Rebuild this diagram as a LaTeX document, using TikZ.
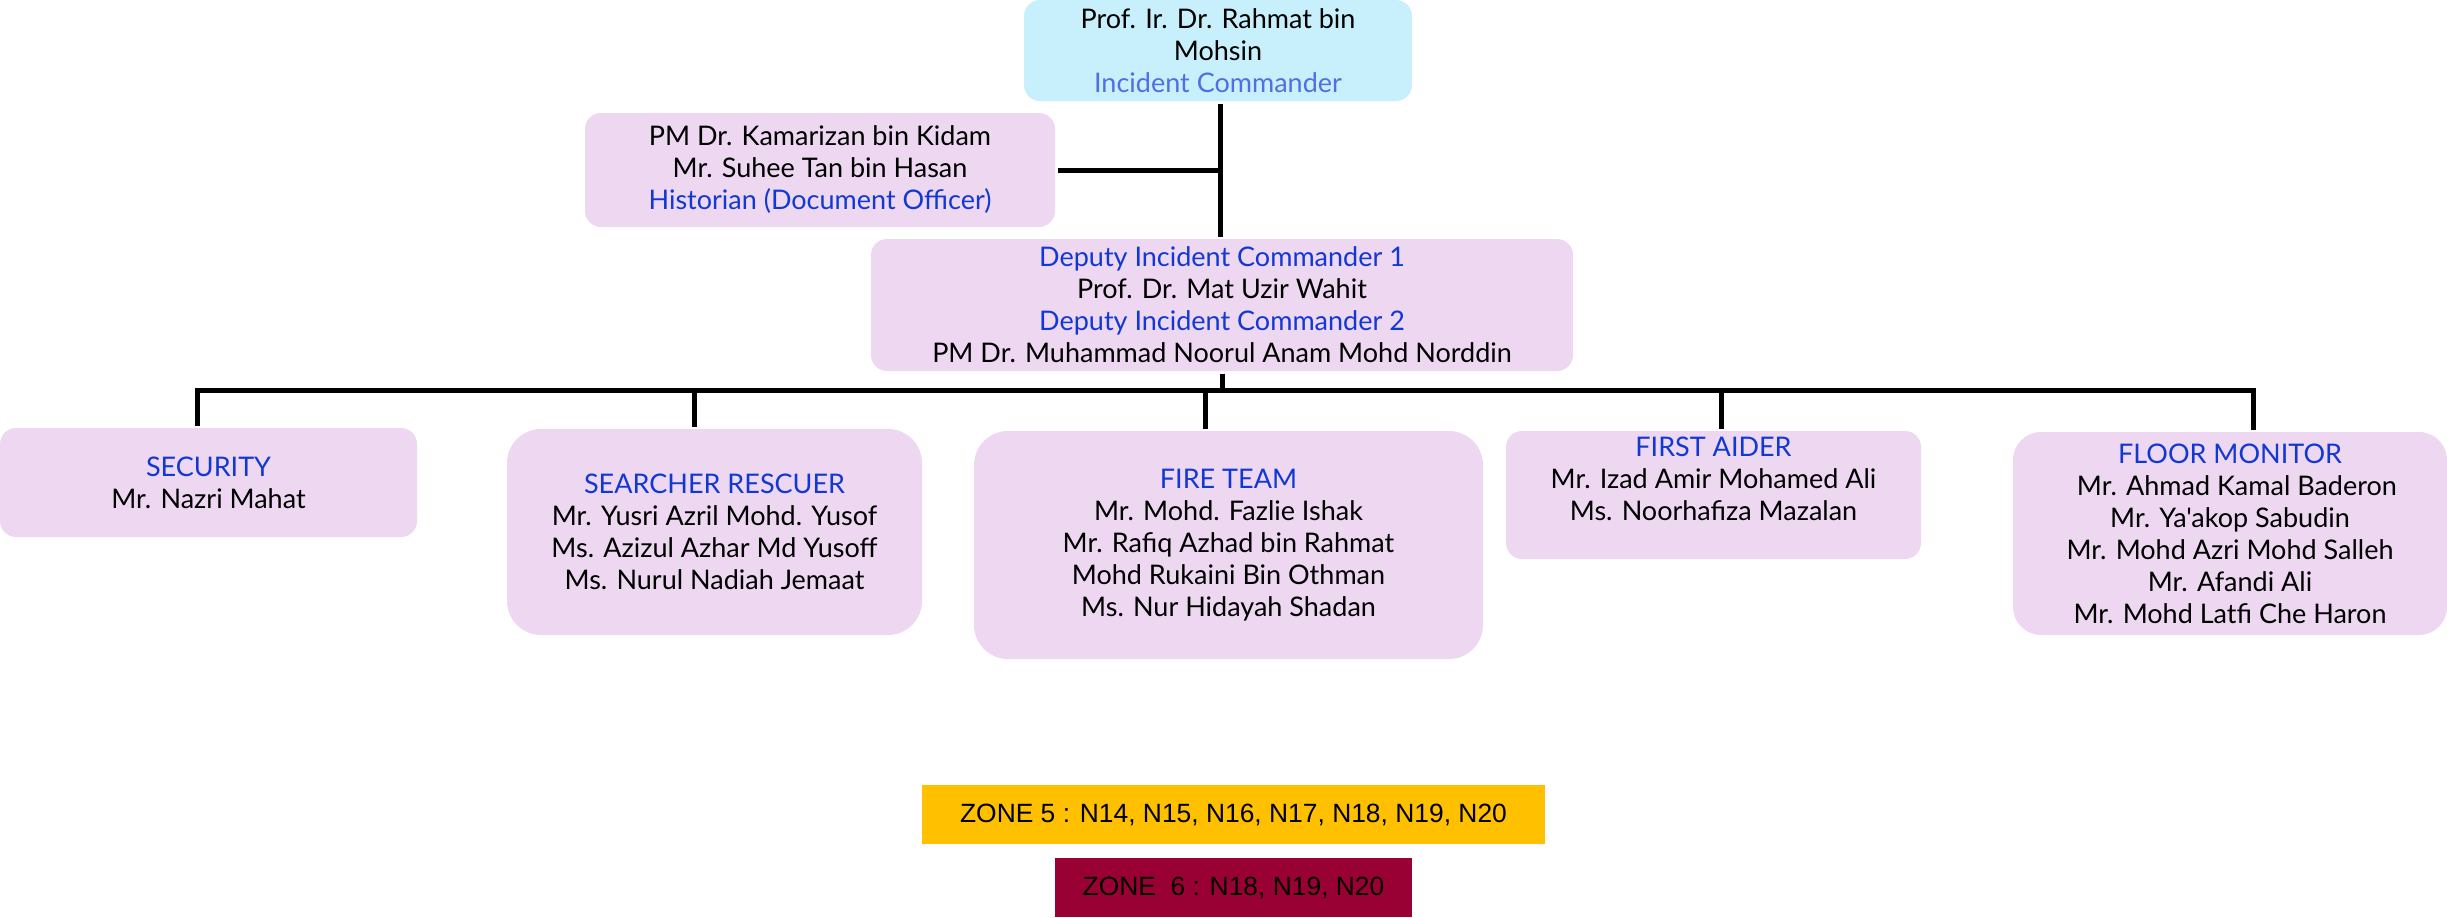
\documentclass[tikz,border=0pt]{standalone}
\usepackage{fontspec}
\setmainfont{Lato}[Ligatures=TeXOff]
\newfontfamily\zonefont{Liberation Sans}
\usepackage{tikz}
\usetikzlibrary{calc}

\definecolor{cmdcyan}{HTML}{C8F0FC}
\definecolor{teamlilac}{HTML}{EDD7F1}
\definecolor{rolblue}{HTML}{1238D4}
\definecolor{icblue}{HTML}{4F6FE2}
\definecolor{zonegold}{HTML}{FFC000}
\definecolor{zonered}{HTML}{990033}

\begin{document}
\begin{tikzpicture}[x=0.5pt,y=-0.5pt,line width=2.5pt]
   \tikzstyle{every node}=[font=\fontsize{13.5}{16}\selectfont,align=center,inner sep=0pt]
   \tikzstyle{cmdbox}=[fill=cmdcyan,rounded corners=8pt]
   \tikzstyle{teambox}=[fill=teamlilac,rounded corners=8pt]
   \tikzstyle{bigbox}=[fill=teamlilac,rounded corners=17pt]
   \tikzstyle{zonebox}=[font=\zonefont\fontsize{13.2}{16}\selectfont]

   \useasboundingbox (0,0) rectangle (2447,917);

   \node[cmdbox,minimum width=194pt,minimum height=50.5pt] (IC) at (1218,50.5)
      {Prof. Ir. Dr. Rahmat bin\\Mohsin\\\textcolor{icblue}{Incident Commander}};
   \node[teambox,minimum width=235pt,minimum height=57pt] (HIST) at (820,170)
      {PM Dr. Kamarizan bin Kidam\\Mr. Suhee Tan bin Hasan\\\textcolor{rolblue}{Historian (Document Officer)}};
   \node[teambox,minimum width=351pt,minimum height=66pt] (DIC) at (1222,305)
      {\textcolor{rolblue}{Deputy Incident Commander 1}\\Prof. Dr. Mat Uzir Wahit\\
       \textcolor{rolblue}{Deputy Incident Commander 2}\\PM Dr. Muhammad Noorul Anam Mohd Norddin};

   \node[teambox,minimum width=208.5pt,minimum height=54.5pt] (SEC) at (208.5,482.5)
      {\textcolor{rolblue}{SECURITY}\\Mr. Nazri Mahat};
   \node[bigbox,minimum width=207.5pt,minimum height=103pt] (SR) at (714.5,532)
      {\textcolor{rolblue}{SEARCHER RESCUER}\\Mr. Yusri Azril Mohd. Yusof\\Ms. Azizul Azhar Md Yusoff\\Ms. Nurul Nadiah Jemaat};
   \node[bigbox,minimum width=254.5pt,minimum height=114pt] (FT) at (1228.5,545)
      {\textcolor{rolblue}{FIRE TEAM}\\Mr. Mohd. Fazlie Ishak\\Mr. Rafiq Azhad bin Rahmat\\Mohd Rukaini Bin Othman\\Ms. Nur Hidayah Shadan};
   \node[teambox,minimum width=207.5pt,minimum height=64pt] (FA) at (1713.5,495)
      {\textcolor{rolblue}{FIRST AIDER}\\Mr. Izad Amir Mohamed Ali\\Ms. Noorhafiza Mazalan\\\mbox{}};
   \node[bigbox,minimum width=217pt,minimum height=101.5pt,rounded corners=14pt] (FM) at (2230,533.5)
      {\textcolor{rolblue}{FLOOR MONITOR}\\\ \ Mr. Ahmad Kamal Baderon\\Mr. Ya'akop Sabudin\\Mr. Mohd Azri Mohd Salleh\\Mr. Afandi Ali\\Mr. Mohd Latfi Che Haron};

   \node[zonebox,fill=zonegold,minimum width=311.5pt,minimum height=29.5pt] (Z5) at (1233.5,814.5)
      {ZONE 5 : N14, N15, N16, N17, N18, N19, N20};
   \node[zonebox,fill=zonered,minimum width=178.5pt,minimum height=29.5pt] (Z6) at (1233.5,887.5)
      {ZONE\ \ 6 : N18, N19, N20};

   % command line
   \draw (IC.south -| 1220,0) -- (1220,0 |- DIC.north);
   \draw (HIST.east) -- (HIST.east -| 1220,0);

   % team bus
   \coordinate (BUS) at (1222,390);
   \draw (DIC.south) -- (BUS);
   \draw[line cap=rect] (197,390) -- (2253,390);
   \path (197,390)  edge (SEC.north -| 197,0)
         (694,390)  edge (SR.north -| 694,0)
         (1205,390) edge (FT.north -| 1205,0)
         (1721,390) edge (FA.north -| 1721,0)
         (2253,390) edge (FM.north -| 2253,0);
\end{tikzpicture}
\end{document}
